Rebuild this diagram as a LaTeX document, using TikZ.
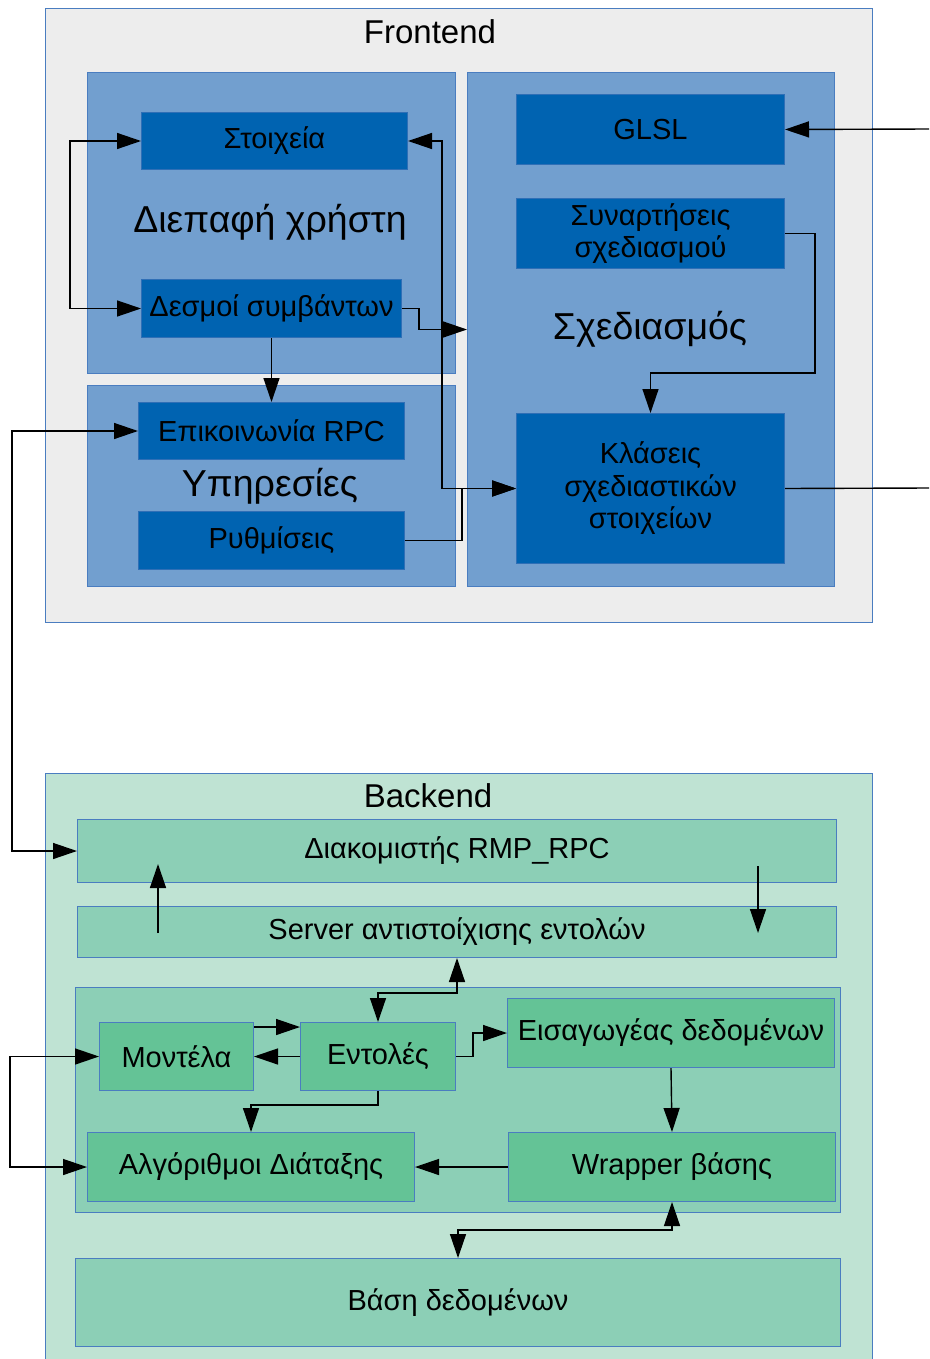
\documentclass[tikz,border=0pt]{standalone}
\usepackage{fontspec}
\setmainfont{Liberation Sans}
\usetikzlibrary{arrows.meta,calc}

\definecolor{feBg}{HTML}{EDEDED}
\definecolor{frameBlue}{HTML}{4A7DC0}
\definecolor{midBlue}{HTML}{729FCF}
\definecolor{darkBlue}{HTML}{0063B1}
\definecolor{darkEdge}{HTML}{2F6FB6}
\definecolor{beBg}{HTML}{BFE3D3}
\definecolor{beMid}{HTML}{8CCFB6}
\definecolor{beBox}{HTML}{64C396}

\newcommand\boxfont{\fontsize{29}{32.5}\selectfont}
\newcommand\titlefont{\fontsize{33}{38}\selectfont}
\newcommand\groupfont{\fontsize{37.5}{42}\selectfont}

\begin{document}
\begin{tikzpicture}[x=1pt,y=-1pt,
  area/.style={draw=frameBlue,line width=1pt,inner sep=0pt,anchor=north west},
  feframe/.style={area,fill=feBg},
  fegroup/.style={area,fill=midBlue},
  febox/.style={draw=darkEdge,line width=1pt,fill=darkBlue,inner sep=0pt,anchor=north west,font=\boxfont,align=center},
  beframe/.style={area,fill=beBg},
  begroup/.style={area,fill=beMid,font=\boxfont,align=center},
  bebox/.style={area,fill=beBox,font=\boxfont,align=center},
  wire/.style={line width=1.4pt,black},
  arr/.style={wire,-{Triangle[length=24pt,width=16pt]}},
  dbl/.style={wire,{Triangle[length=24pt,width=16pt]}-{Triangle[length=24pt,width=16pt]}}
]
\useasboundingbox (0,0) rectangle (929,1359);
\clip (0,0) rectangle (929,1359);
\fill[white] (0,0) rectangle (929,1359);

% ---------- Frontend ----------
\node[feframe,minimum width=827pt,minimum height=614pt] (fe) at (45,8) {};
\node[font=\titlefont] (fetitle) at (430,32) {Frontend};

\node[fegroup,minimum width=368pt,minimum height=301pt] (ui) at (87,72) {};
\node[fegroup,minimum width=368pt,minimum height=201pt] (svc) at (87,385) {};
\node[fegroup,minimum width=367pt,minimum height=514pt] (sched) at (467,72) {};

\node[font=\groupfont] (uititle) at (270,222) {Διεπαφή χρήστη};
\node[font=\groupfont] (svctitle) at (270,486) {Υπηρεσίες};
\node[font=\groupfont] (schedtitle) at (650,329) {Σχεδιασμός};

\node[febox,minimum width=266pt,minimum height=57pt] (stoix) at (141,112) {Στοιχεία};
\node[febox,minimum width=260pt,minimum height=58pt] (desm) at (141,279) {Δεσμοί συμβάντων};
\node[febox,minimum width=266pt,minimum height=57pt] (rpc) at (138,402) {Επικοινωνία RPC};
\node[febox,minimum width=266pt,minimum height=58pt] (rythm) at (138,511) {Ρυθμίσεις};
\node[febox,minimum width=268pt,minimum height=70pt] (glsl) at (516,94) {GLSL};
\node[febox,minimum width=268pt,minimum height=70pt] (syn) at (516,198) {Συναρτήσεις\\σχεδιασμού};
\node[febox,minimum width=268pt,minimum height=150pt] (klas) at (516,413) {Κλάσεις\\σχεδιαστικών\\στοιχείων};

% ---------- Backend ----------
\node[beframe,minimum width=827pt,minimum height=600pt] (be) at (45,773) {};
\node[font=\titlefont] (betitle) at (428,796) {Backend};

\node[begroup,minimum width=759pt,minimum height=63pt] (srv) at (77,819) {Διακομιστής RMP\_RPC};
\node[begroup,minimum width=759pt,minimum height=51pt] (cmd) at (77,906) {Server αντιστοίχισης εντολών};
\node[begroup,minimum width=765pt,minimum height=225pt] (core) at (75,987) {};
\node[begroup,minimum width=765pt,minimum height=88pt] (db) at (75,1258) {Βάση δεδομένων};

\node[bebox,minimum width=154pt,minimum height=68pt] (mod) at (99,1022) {Μοντέλα};
\node[bebox,minimum width=155pt,minimum height=68pt] (ent) at (300,1022) {Εντολές};
\node[bebox,minimum width=327pt,minimum height=69pt] (imp) at (507,998) {Εισαγωγέας δεδομένων};
\node[bebox,minimum width=327pt,minimum height=69pt] (alg) at (87,1132) {Αλγόριθμοι Διάταξης};
\node[bebox,minimum width=327pt,minimum height=69pt] (wrap) at (508,1132) {Wrapper βάσης};

% ---------- Frontend connectors ----------
\draw[dbl] (stoix.west) -- ++(-71,0) |- (desm.west);
\draw[arr] (desm.east) -- ++(17,0) |- (sched.west);
\draw[arr] (desm.south) -- (rpc.north);
\draw[dbl] (stoix.east) -- ++(34,0) |- (klas.west);
\draw[arr] (rythm.east) -- ++(57,0) |- (klas.west);
\coordinate (glslin) at (930,129);
\draw[arr] (glslin) -- (glsl.east);
\draw[arr] (syn.east) -- ++(30,0) |- ([yshift=40pt]klas.north) -- (klas.north);
\coordinate (klasout) at (930,488);
\draw[wire] (klas.east) -- (klasout);
\draw[dbl] (rpc.west) -- ++(-126,0) |- (srv.west);

% ---------- Backend connectors ----------
\coordinate (upfrom) at (158,933);
\coordinate (upto) at (158,864);
\draw[arr] (upfrom) -- (upto);
\coordinate (downfrom) at (758,866);
\coordinate (downto) at (758,933);
\draw[arr] (downfrom) -- (downto);
\draw[dbl] (cmd.south) -- ++(0,35) -| (ent.north);
\draw[arr] ([yshift=-5pt]mod.north east) -- ([yshift=-5pt]ent.north west);
\draw[arr] (ent.west) -- (mod.east);
\draw[arr] (ent.east) -- ++(17,0) |- (imp.west);
\draw[arr] (ent.south) -- ++(0,14) -| (alg.north);
\draw[arr] (imp.south) -- (wrap.north);
\draw[arr] (wrap.west) -- (alg.east);
\draw[dbl] (mod.west) -- ++(-89,0) |- (alg.west);
\draw[dbl] (wrap.south) -- ++(0,28) -| (db.north);
\end{tikzpicture}
\end{document}
